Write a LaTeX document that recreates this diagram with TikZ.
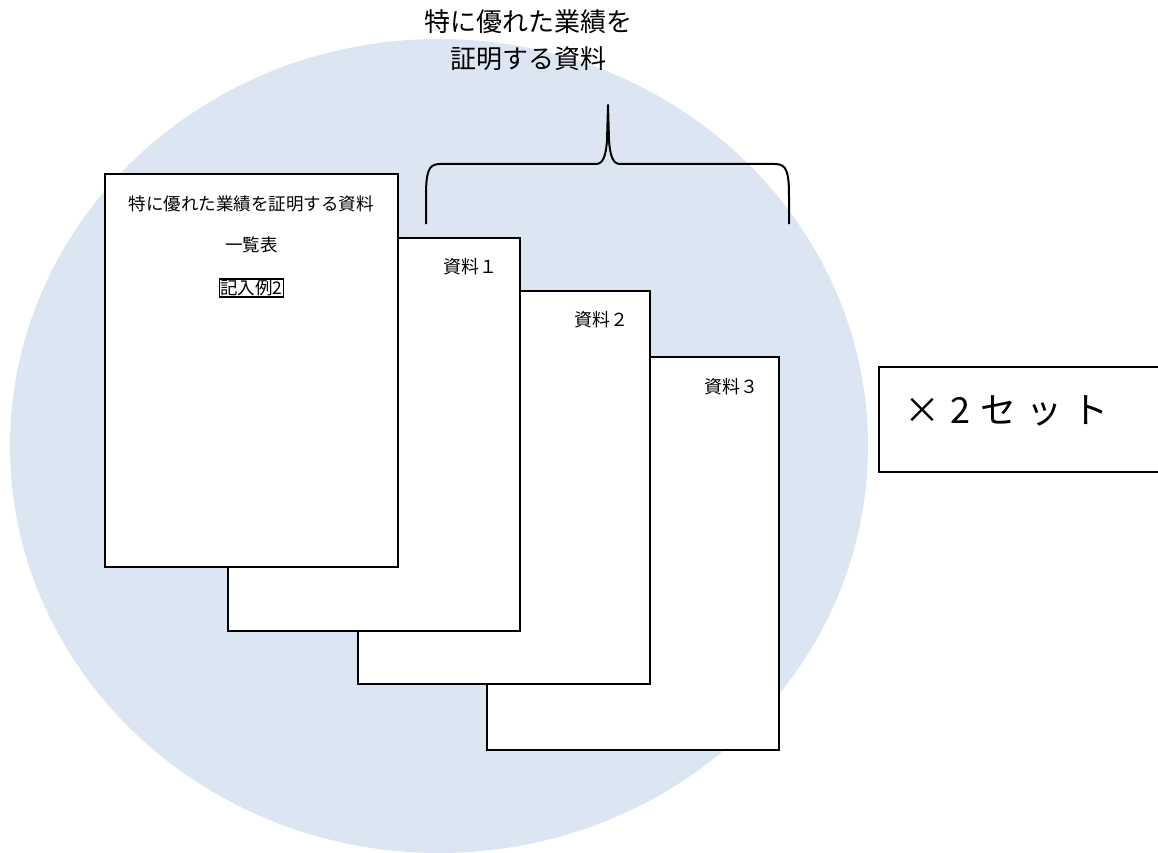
\documentclass[tikz,border=0pt]{standalone}
\usepackage{fontspec}
\setmainfont{Noto Sans CJK JP}
\newfontfamily\setsfont[LetterSpace=28]{Noto Sans CJK JP}
\usetikzlibrary{positioning}
\definecolor{bubble}{RGB}{220,230,242}

\begin{document}
\begin{tikzpicture}[
        x=1pt, y=-1pt,
        node distance=25pt,
        sheet/.style={draw, line width=1.8pt, fill=white, minimum width=292pt, minimum height=393pt, anchor=north west},
        doctext/.style={inner sep=0pt, font=\fontsize{17.5}{20}\selectfont},
        sheetlabel/.style={inner sep=0pt, font=\fontsize{18}{20}\selectfont},
        caption/.style={align=center, inner sep=0pt, font=\fontsize{26}{37}\selectfont},
        setbox/.style={draw, line width=1.8pt, anchor=north west, minimum width=300pt, minimum height=105pt},
        settext/.style={inner sep=0pt, anchor=west, font=\setsfont\fontsize{36}{40}\selectfont},
        brace/.style={line width=2pt, line join=round}
    ]
    \useasboundingbox (0,0) rectangle (1158,853);

    % Background
    \fill[bubble] (439,446) ellipse [x radius=429, y radius=407];

    % Sheets, back to front
    \node[sheet] (s3) at (486,356) {};
    \node[sheet] (s2) at (357,290) {};
    \node[sheet] (s1) at (227,237) {};
    \node[sheet, minimum width=293pt] (list) at (104,173) {};

    % Text on the list sheet
    \node[doctext] (title) at ([yshift=-30.5pt]list.north) {特に優れた業績を証明する資料};
    \node[doctext] (ichiran) [below=of title] {一覧表};
    \node[doctext, draw, line width=1.3pt, inner sep=1pt] (example2) [below=of ichiran] {記入例2};

    % Sheet labels
    \node[sheetlabel] (lab1) at ([xshift=-50pt, yshift=-30pt]s1.north east) {資料１};
    \node[sheetlabel] (lab2) at ([xshift=-49pt, yshift=-30pt]s2.north east) {資料２};
    \node[sheetlabel] (lab3) at ([xshift=-48pt, yshift=-31pt]s3.north east) {資料３};

    % Brace and caption
    \coordinate (braceL) at (426,224);
    \coordinate (braceR) at (789,224);
    \coordinate (braceTip) at (608,105);
    \draw[brace] (braceL) -- (426,198) .. controls (426,172) and (428,164) .. (440,164)
        -- (596,164) .. controls (603,164) and (606,156) .. (607,140) -- (braceTip)
        -- (609,140) .. controls (610,156) and (613,164) .. (620,164)
        -- (775,164) .. controls (787,164) and (789,172) .. (789,198) -- (braceR);
    \node[caption] (note) at (528,40.5) {特に優れた業績を\\証明する資料};

    % Number of sets
    \node[setbox] (sets) at (878,366) {};
    \node[settext] (setslabel) at ([xshift=26pt, yshift=8pt]sets.west) {×2セット};

\end{tikzpicture}
\end{document}
